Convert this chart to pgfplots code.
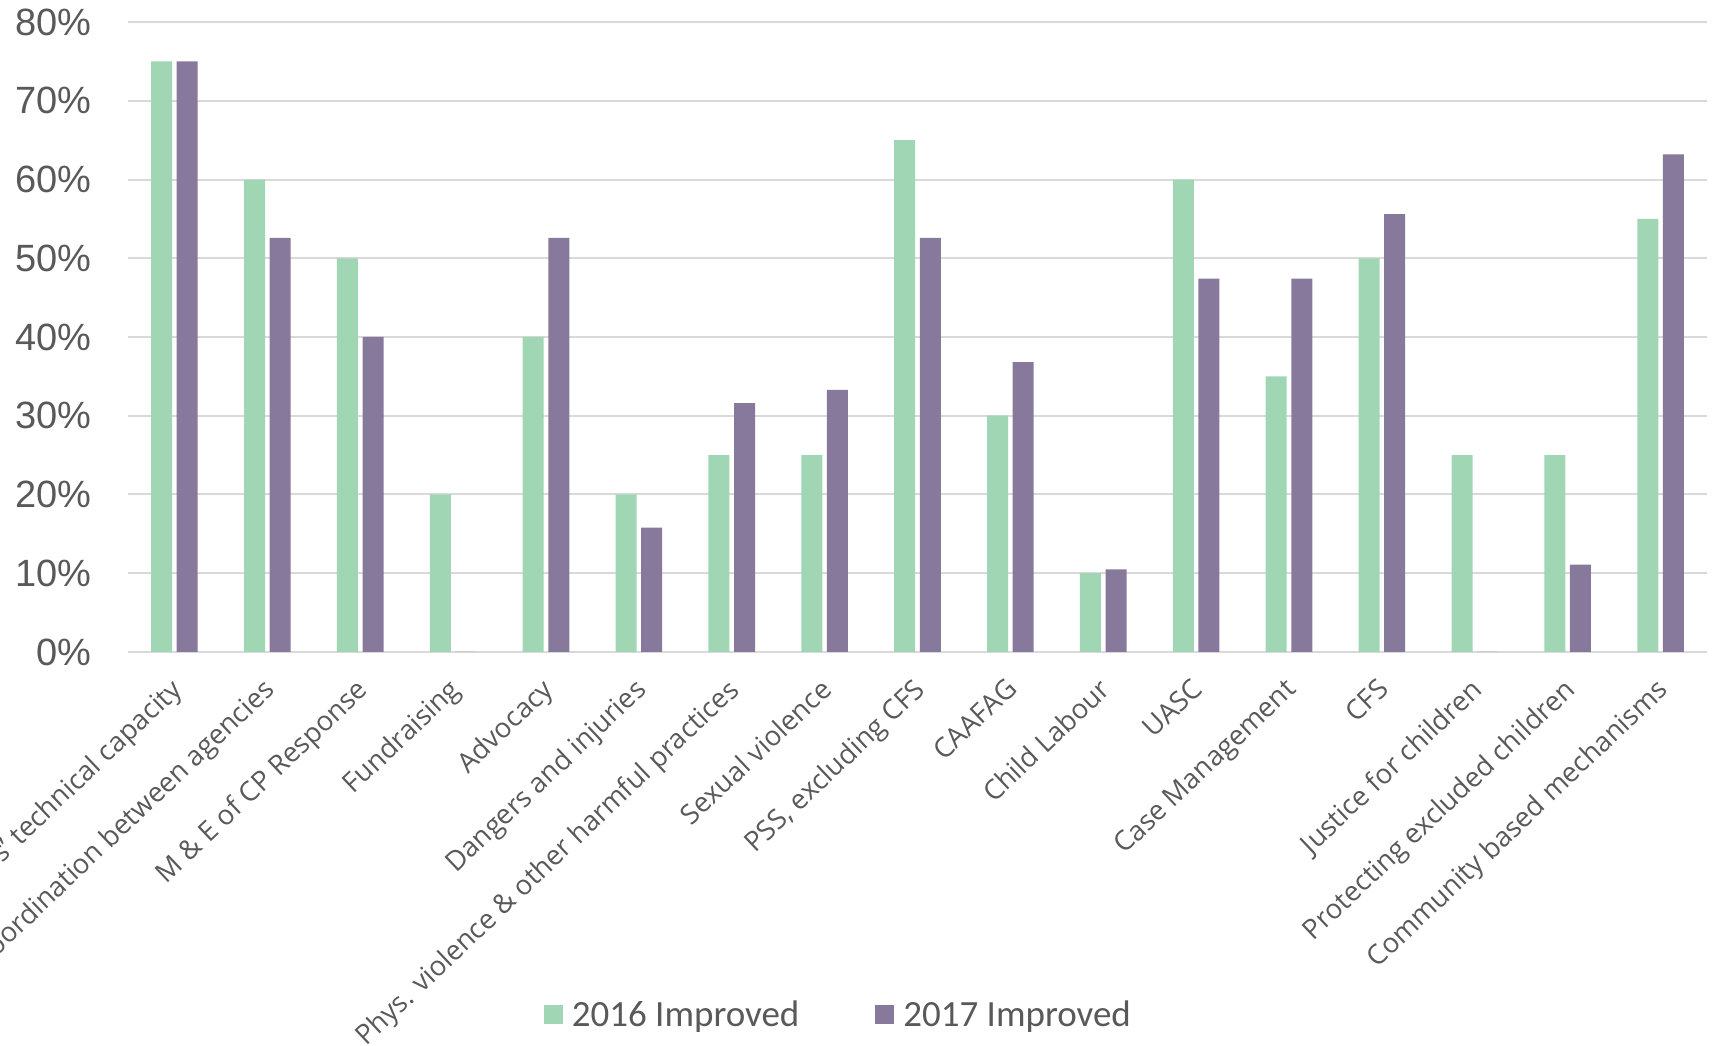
\documentclass[border=0pt]{standalone}
\usepackage{fontspec}
\setmainfont{Open Sans}
\newfontfamily\tickfont{Liberation Sans}
\newfontfamily\legfont{Carlito}
\usepackage{pgfplots}
\pgfplotsset{compat=1.18}

\definecolor{g16}{HTML}{A0D6B4}
\definecolor{p17}{HTML}{87799C}
\definecolor{gridgray}{HTML}{D9D9D9}
\definecolor{txt}{HTML}{595959}

\begin{document}
\begin{tikzpicture}
\begin{axis}[
    name=ax, at={(0,0)}, anchor=south west,
    width=789.5pt, height=315pt, scale only axis,
    ybar=2.3pt, bar width=10.5pt,
    xmin=-0.5, xmax=16.5, ymin=0, ymax=80,
    xtick={0,...,16},
    xticklabels={Members' technical capacity, Coordination between agencies,
        M \& E of CP Response, Fundraising, Advocacy, Dangers and injuries,
        Phys. violence \& other harmful practices, Sexual violence,
        {PSS, excluding CFS}, CAAFAG, Child Labour, UASC, Case Management,
        CFS, Justice for children, Protecting excluded children,
        Community based mechanisms},
    ytick={0,10,...,80},
    yticklabel={\pgfmathprintnumber{\tick}\%},
    /pgf/number format/assume math mode=true,
    ymajorgrids, grid style={gridgray, line width=1pt},
    axis line style={draw=none},
    major tick length=0pt,
    yticklabel style={font=\tickfont\fontsize{19}{22}\selectfont, text=txt,
        anchor=east, inner sep=0pt, xshift=-18pt},
    xticklabel style={xshift=-2.7pt, yshift=-9.3pt, rotate=43.5,
        font=\fontsize{13.7}{16}\selectfont, text=txt,
        anchor=north east, inner sep=2pt},
    legend style={at={(0.4505,-0.576)}, anchor=center, draw=none,
        legend columns=2, font=\legfont\fontsize{18.5}{20}\selectfont, text=txt,
        /tikz/every even column/.append style={column sep=36pt}},
    legend image code/.code={\draw[#1,draw=none] (0pt,-4.75pt) rectangle (9.5pt,4.75pt);
        \path (12pt,0pt);},
]
\addplot[fill=g16, draw=none] coordinates {
    (0,75) (1,60) (2,50) (3,20) (4,40) (5,20) (6,25) (7,25) (8,65)
    (9,30) (10,10) (11,60) (12,35) (13,50) (14,25) (15,25) (16,55)
};
\addlegendentry{2016 Improved}
\addplot[fill=p17, draw=none] coordinates {
    (0,75) (1,52.6) (2,40) (3,0) (4,52.6) (5,15.8) (6,31.6) (7,33.3) (8,52.6)
    (9,36.8) (10,10.5) (11,47.4) (12,47.4) (13,55.6) (14,0) (15,11.1) (16,63.2)
};
\addlegendentry{2017 Improved}
\end{axis}
\pgfresetboundingbox
\path[use as bounding box] ([shift={(-64pt,-197pt)}]ax.south west)
    rectangle ([shift={(3.5pt,11pt)}]ax.north east);
\end{tikzpicture}
\end{document}
